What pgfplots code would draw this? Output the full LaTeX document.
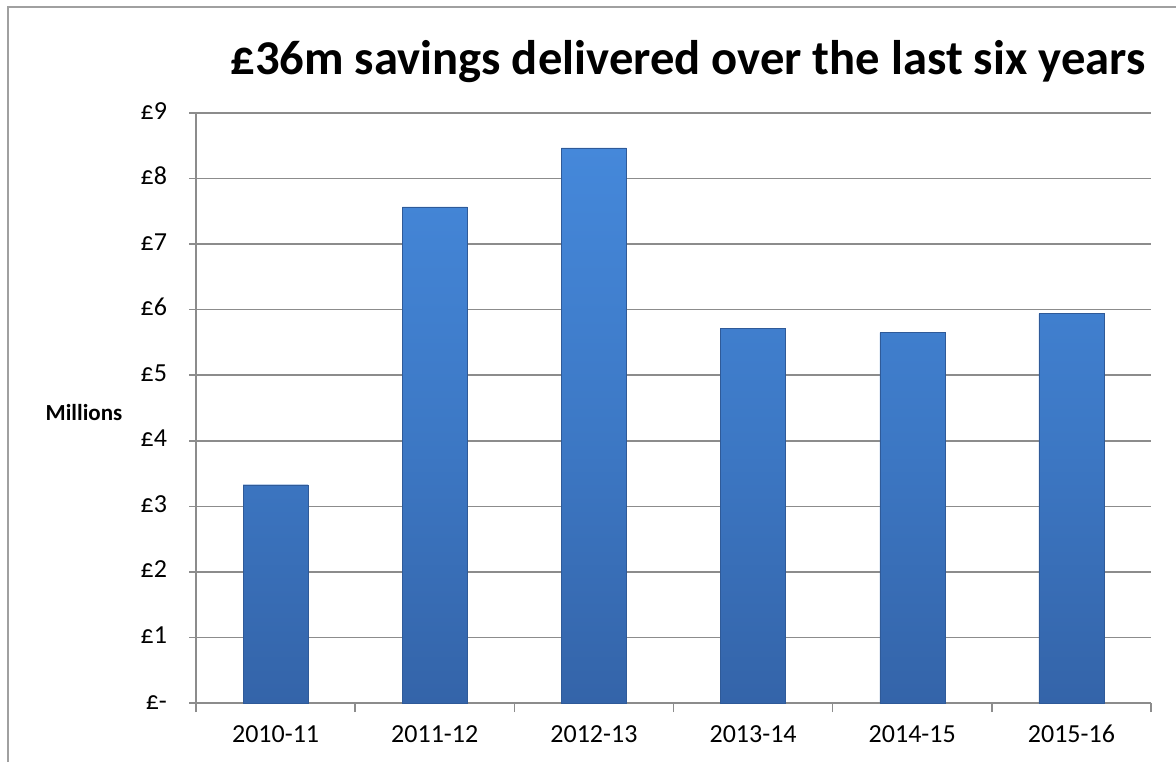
\documentclass[border=0pt]{standalone}
\usepackage{fontspec}
\setmainfont{Carlito}
\usepackage{pgfplots}
\pgfplotsset{compat=1.18}
\definecolor{gridgray}{HTML}{8C8C8C}
\definecolor{framegray}{HTML}{A0A0A0}
\definecolor{barTop}{HTML}{4588DA}
\definecolor{barMid}{HTML}{3D79C6}
\definecolor{barBot}{HTML}{3464A9}
\begin{document}
\begin{tikzpicture}
\useasboundingbox (0,0) rectangle (588pt,381pt);
\draw[framegray, line width=0.9pt] (4pt,0) -- (4pt,377.5pt) -- (588pt,377.5pt);
\node[font=\fontsize{24.3}{28}\selectfont\bfseries] at (344pt,350pt) {£36m savings delivered over the last six years};
\node[font=\fontsize{11.5}{13}\selectfont\bfseries] at (42pt,174.5pt) {Millions};
\begin{axis}[
  at={(98pt,29.5pt)}, anchor=south west,
  scale only axis, width=477.5pt, height=295pt,
  xmin=-0.5, xmax=5.5, ymin=0, ymax=9,
  axis x line*=bottom, axis y line*=left,
  axis line style={gridgray, line width=0.8pt},
  ytick={0,1,...,9},
  yticklabels={£-,£1,£2,£3,£4,£5,£6,£7,£8,£9},
  ymajorgrids, grid style={gridgray, line width=0.8pt},
  xtick={0,1,...,5},
  xticklabels={2010-11,2011-12,2012-13,2013-14,2014-15,2015-16},
  minor xtick={-0.5,0.5,...,5.5},
  tick align=outside,
  major tick length=3.5pt, minor tick length=4.5pt,
  tick style={gridgray, line width=0.8pt},
  major x tick style={draw=none},
  typeset ticklabels with strut,
  ticklabel style={font=\fontsize{13}{15}\selectfont},
  yticklabel style={xshift=-7.5pt},
  xticklabel style={yshift=-2pt},
  ybar, bar width=32.5pt,
]
\addplot[draw=barBot!90!black, line width=0.2pt, top color=barTop, bottom color=barBot, middle color=barMid] coordinates {(0,3.33) (1,7.57) (2,8.47) (3,5.71) (4,5.65) (5,5.94)};
\end{axis}
\end{tikzpicture}
\end{document}
